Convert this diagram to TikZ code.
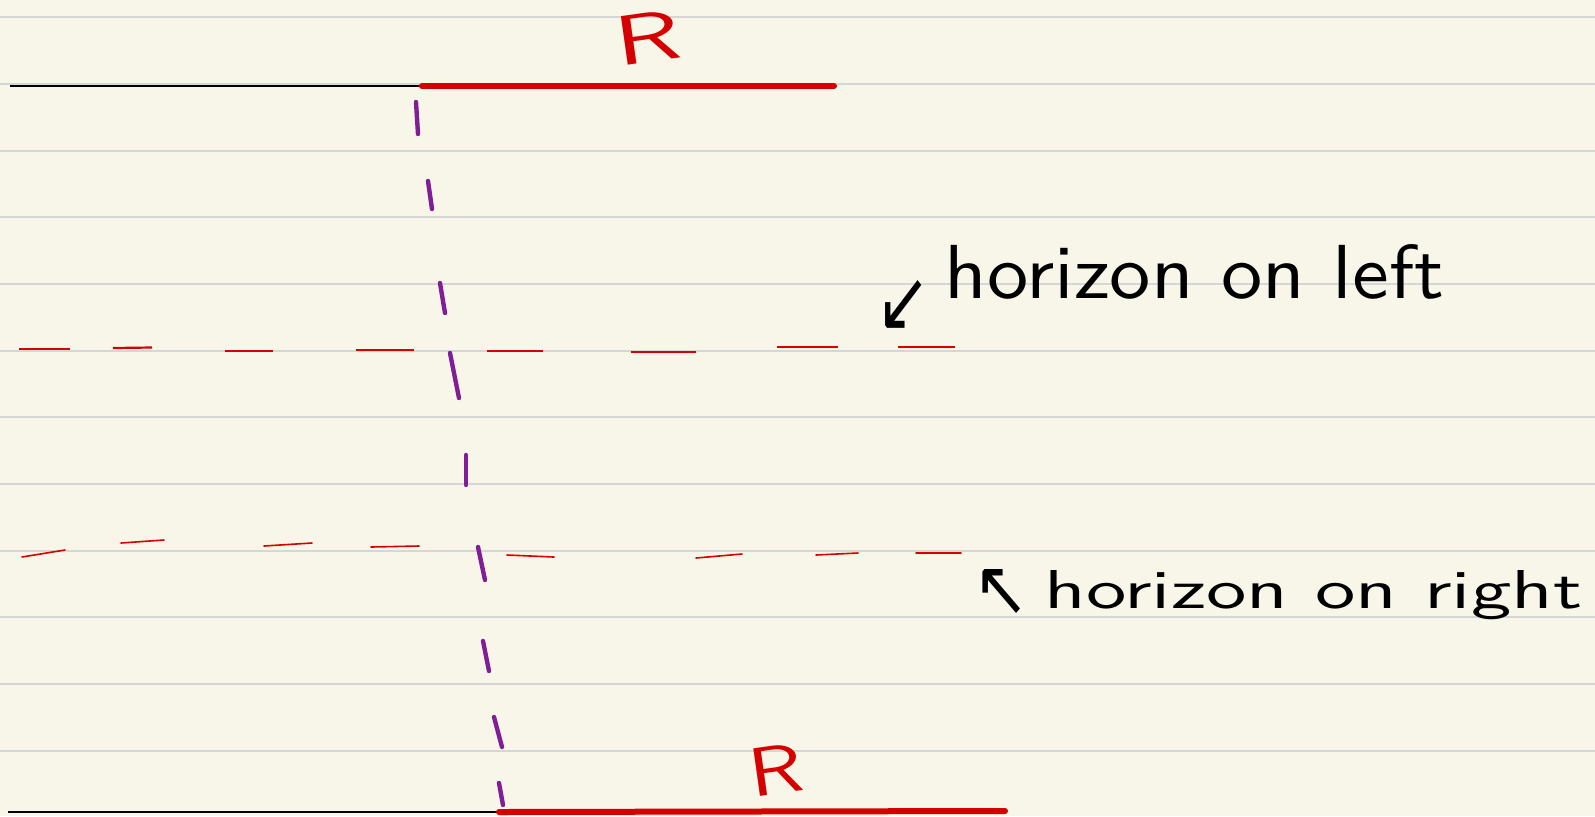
\documentclass[tikz,border=0pt]{standalone}
\usepackage{fontspec}
\usepackage{graphicx}
\newfontfamily\arrowfont{DejaVu Sans}
\definecolor{paper}{RGB}{248,246,232}
\definecolor{ruleclr}{RGB}{214,214,214}
\definecolor{inkred}{RGB}{213,0,0}
\definecolor{inkpurp}{RGB}{128,30,150}
\begin{document}
\begin{tikzpicture}[x=0.5pt,y=-0.5pt,
  ruleline/.style={ruleclr, line width=1pt},
  blackline/.style={black, line width=1pt},
  redthick/.style={inkred, line width=3pt, line cap=round},
  reddashA/.style={inkred, line width=1.1pt},
  reddashB/.style={inkred, line width=0.8pt, line cap=round},
  purpdash/.style={inkpurp, line width=2.2pt, line cap=round},
  note/.style={inner sep=0pt, anchor=base west, text=black, font=\sffamily},
  letterR/.style={inner sep=0pt, text=inkred, font=\sffamily},
  arrowlbl/.style={inner sep=0pt, text=black, font=\arrowfont}
]
\fill[paper] (0,0) rectangle (1595,816);
\useasboundingbox (0,0) rectangle (1595,816);
% ruled paper
\foreach \k in {0,...,11}
  \draw[ruleline] (0,{17.3+66.67*\k}) -- (1595,{17.3+66.67*\k});
% top line
\coordinate (tl) at (10,86);
\coordinate (tm) at (422,86);
\coordinate (tr) at (834,86);
\draw[blackline] (tl) -- (tm);
\draw[redthick] (tm) -- (tr);
% bottom line
\coordinate (bl) at (8,812);
\coordinate (bm) at (499,812);
\coordinate (br) at (1005,811);
\draw[blackline] (bl) -- (bm);
\draw[redthick] (bm) -- (br);
% R labels
\node[letterR, rotate=8] (rtop) at (648,37.5) {\resizebox{33pt}{24.5pt}{R}};
\node[letterR, rotate=8] (rbot) at (775.5,770) {\resizebox{27pt}{24pt}{R}};
% purple dashed line
\foreach \xa/\ya/\xb/\yb in {416/102/418/134, 428/181/432/209, 440/283/445/313,
  450/353/459/398, 466/455/466/485, 478/547/485/580, 483/641/489/671,
  494/717/502/747, 499/783/503/805}
  \draw[purpdash] (\xa,\ya) -- (\xb,\yb);
% red dashed horizon 1
\foreach \a/\ya/\b/\yb in {19/349/70/349, 113/348/152/347.5, 225/351/273/351,
  356/350/414/350, 487/351/543/351, 631/352/696/352, 777/347/838/347, 898/347/955/347}
  \draw[reddashA] (\a,\ya) -- (\b,\yb);
% red dashed horizon 2
\foreach \a/\ya/\b/\yb in {22/557/65/550, 121/543/164/540, 264/546/312/543,
  371/547/419/546, 507/555/554/557, 696/558/742/554, 816/555/858/553, 916/553/961/553}
  \draw[reddashB] (\a,\ya) -- (\b,\yb);
% annotations
\node[arrowlbl] (arrL) at (903,305) {\resizebox{27pt}{25pt}{↙}};
\node[note] (lblL) at (944,298) {\resizebox{250pt}{27pt}{horizon on left}};
\node[arrowlbl] (arrR) at (1001,592) {\resizebox{28pt}{23pt}{↖}};
\node[note] (lblR) at (1044,608) {\resizebox{269pt}{19pt}{horizon on right}};
\end{tikzpicture}
\end{document}
